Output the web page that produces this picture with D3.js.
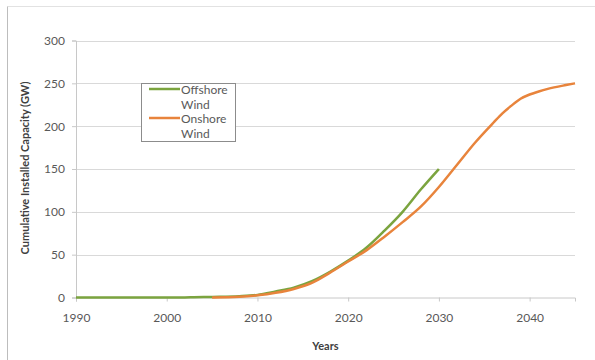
<!DOCTYPE html>
<html>
<head>
<meta charset="utf-8">
<script src="https://cdn.jsdelivr.net/npm/d3@7"></script>
<style>
  html, body { margin: 0; padding: 0; background: #fff; }
  svg { display: block; font-family: Lato, "Open Sans", sans-serif; }
</style>
</head>
<body>
<svg id="chart" width="595" height="360"></svg>
<script>
// Cumulative installed wind capacity (GW)
const offshoreYears  = [1990, 1995, 2000, 2002, 2003, 2005, 2008, 2010, 2012, 2014, 2016, 2018, 2020, 2022, 2024, 2026, 2028, 2030];
const offshoreValues = [0, 0, 0, 0, 0.3, 0.7, 1.5, 3, 7, 11.5, 19, 30, 43, 58, 78, 100, 126, 150];

const onshoreYears  = [2005, 2008, 2010, 2012, 2014, 2016, 2018, 2020, 2022, 2024, 2026, 2028, 2030, 2032, 2034, 2036, 2037, 2038, 2039, 2040, 2041, 2042, 2044, 2045];
const onshoreValues = [0, 0.8, 2.5, 5.5, 10, 17, 29, 42, 55, 71, 88, 106, 129, 155, 181, 204, 215, 224, 232, 237, 240.5, 243.5, 248, 250];

const xTicks = [1990, 2000, 2010, 2020, 2030, 2040];
const yTicks = [0, 50, 100, 150, 200, 250, 300];

const seriesNames  = ["Offshore", "Onshore"];
const seriesColors = ["#7ba43f", "#e8843c"];

const svg = d3.select("#chart");

// outer chart frame
svg.append("line").attr("x1", 7.5).attr("x2", 595).attr("y1", 6.5).attr("y2", 6.5)
  .attr("stroke", "#e2e2e2");
svg.append("line").attr("x1", 7.5).attr("x2", 7.5).attr("y1", 6.5).attr("y2", 360)
  .attr("stroke", "#bdbdbd");

const x = d3.scaleLinear().domain([1990, 2045]).range([76, 575]);
const y = d3.scaleLinear().domain([0, 300]).range([297.5, 40.5]);

// horizontal gridlines
svg.append("g").selectAll("line").data(yTicks.filter(d => d > 0)).join("line")
  .attr("x1", x(1990)).attr("x2", x(2045))
  .attr("y1", d => Math.round(y(d)) + 0.5).attr("y2", d => Math.round(y(d)) + 0.5)
  .attr("stroke", "#d9d9d9").attr("stroke-width", 1.2);

// y axis
const yAxis = svg.append("g").attr("transform", `translate(${x(1990)},0)`)
  .call(d3.axisLeft(y).tickValues(yTicks).tickSize(4).tickPadding(7));
yAxis.select(".domain").attr("stroke", "#c8c8c8");
yAxis.selectAll(".tick line").attr("stroke", "#c8c8c8");
yAxis.selectAll("text").attr("fill", "#595959").style("font-size", "12px")
  .style("font-family", "Lato, sans-serif");

// x axis
const xAxis = svg.append("g").attr("transform", `translate(0,${y(0)})`)
  .call(d3.axisBottom(x).tickValues(xTicks).tickFormat(d3.format("d")).tickSize(4).tickPadding(12));
xAxis.select(".domain").attr("stroke", "#c8c8c8");
xAxis.selectAll(".tick line").attr("stroke", "#c8c8c8");
xAxis.selectAll("text").attr("fill", "#595959").style("font-size", "12px")
  .style("font-family", "Lato, sans-serif");

// axis titles
svg.append("text").attr("x", x(2017.5)).attr("y", 350)
  .attr("text-anchor", "middle").attr("font-weight", "bold")
  .attr("font-size", 11).attr("fill", "#404040").text("Years");
svg.append("text").attr("transform", "translate(29,168) rotate(-90)")
  .attr("text-anchor", "middle").attr("font-weight", "bold")
  .attr("font-size", 11).attr("fill", "#404040")
  .text("Cumulative Installed Capacity (GW)");

// series lines
const line = d3.line().x(d => x(d[0])).y(d => y(d[1])).curve(d3.curveMonotoneX);
const series = [
  offshoreYears.map((yr, i) => [yr, offshoreValues[i]]),
  onshoreYears.map((yr, i) => [yr, onshoreValues[i]])
];
series.forEach((pts, i) => {
  svg.append("path").datum(pts).attr("d", line)
    .attr("fill", "none").attr("stroke", seriesColors[i])
    .attr("stroke-width", 2.5).attr("stroke-linejoin", "round");
});

// legend
const legend = svg.append("g");
legend.append("rect").attr("x", 141.5).attr("y", 83.5).attr("width", 94).attr("height", 58)
  .attr("fill", "#fff").attr("stroke", "#8c8c8c").attr("stroke-width", 1);
seriesNames.forEach((name, i) => {
  const ly = 89 + i * 29;
  legend.append("line").attr("x1", 149).attr("x2", 180).attr("y1", ly).attr("y2", ly)
    .attr("stroke", seriesColors[i]).attr("stroke-width", 2.5);
  legend.append("text").attr("x", 181).attr("y", ly + 4.5)
    .attr("font-size", 12).attr("fill", "#595959").text(name);
  legend.append("text").attr("x", 181).attr("y", ly + 19.5)
    .attr("font-size", 12).attr("fill", "#595959").text("Wind");
});
</script>
</body>
</html>
